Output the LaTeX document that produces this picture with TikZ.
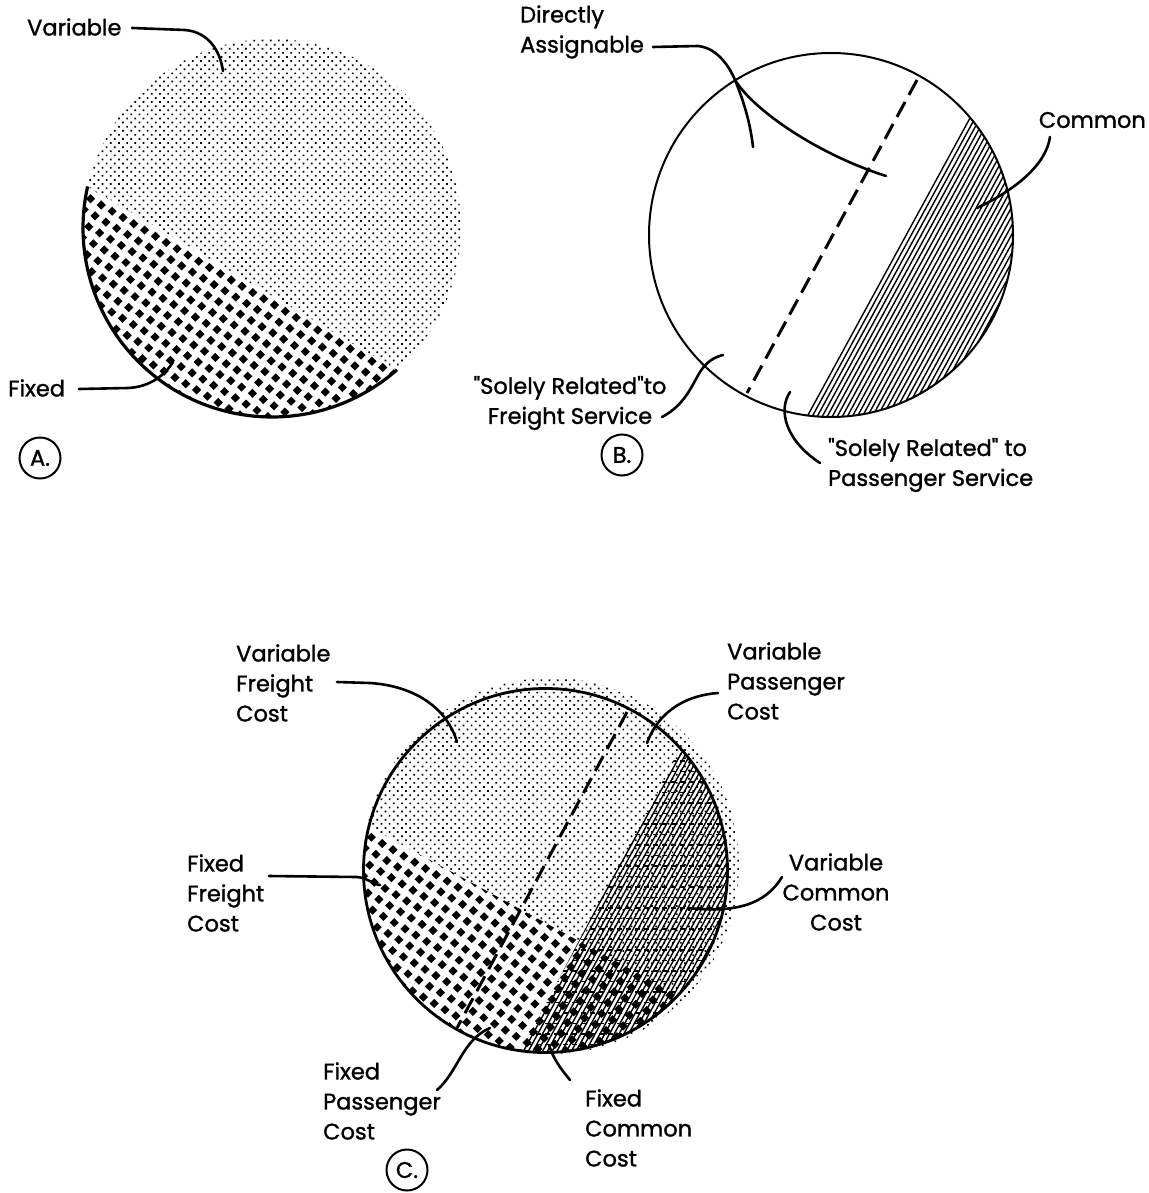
\documentclass[tikz,border=0pt]{standalone}
\usepackage{fontspec}
\setmainfont{Poppins}[FakeBold=1.3]
\newfontfamily\qf{Poppins}[FakeBold=1.3]
\newcommand{\sq}{{\qf\symbol{34}}}
\usetikzlibrary{calc,patterns.meta}

\tikzdeclarepattern{
  name=stip, type=colored,
  bottom left={(-.1pt,-.1pt)}, top right={(5.9pt,5.9pt)},
  tile size={(5.8pt,5.8pt)},
  tile transformation={rotate=45},
  code={\fill[black] (2.9pt,2.9pt) circle[radius=1.2pt];}
}
\tikzdeclarepattern{
  name=diam, type=colored,
  bottom left={(-.1pt,-.1pt)}, top right={(12.6pt,12.6pt)},
  tile size={(12.5pt,12.5pt)},
  tile transformation={rotate=-30},
  code={\fill[black] (10.23pt,8.55pt) -- (3.95pt,10.23pt) -- (2.27pt,3.95pt) -- (8.55pt,2.27pt) -- cycle;}
}

\begin{document}
\begin{tikzpicture}[x=1pt,y=-1pt,
  lbl/.style={font=\fontsize{22.5}{30}\selectfont, inner sep=0pt},
  lead/.style={line width=2.6pt, line cap=round, line join=round},
  tagc/.style={circle, draw, line width=2pt, minimum size=41pt, inner sep=0pt, font=\fontsize{22.5}{26}\selectfont},
  hatchln/.style={line width=1.4pt},
  brickln/.style={line width=1.1pt, dash pattern=on 5pt off 4pt},
  dashln/.style={line width=3pt, dash pattern=on 17pt off 8pt},
  rimA/.style={line width=3.2pt},
  rimB/.style={line width=2pt},
  rimC/.style={line width=2.8pt}]

\path[use as bounding box] (0,0) rectangle (1148,1193);

% ================= Panel A =================
\coordinate (cA) at (272,228);
\coordinate (aL) at ($(cA)+(192.7:189)$);
\coordinate (aR) at ($(cA)+(48.6:189)$);
\fill[pattern=stip] (aL) arc[start angle=192.7, end angle=408.6, radius=189] -- cycle;
\fill[pattern=diam] (aR) arc[start angle=48.6, end angle=192.7, radius=189] -- cycle;
\draw[rimA] (aR) arc[start angle=48.6, end angle=192.7, radius=189];

\node[lbl, anchor=west] (tVarA) at (27,27) {Variable};
\node[lbl, anchor=west] (tFixA) at (8,388) {Fixed};
\node[tagc] (tagA) at (40,458) {A.};

\coordinate (sVarA) at (132,28);
\coordinate (eVarA) at (223,71);
\draw[lead] (sVarA) -- (185,30) .. controls (208,32) and (220,50) .. (eVarA);
\coordinate (sFixA) at (79,389);
\coordinate (eFixA) at (173,362);
\draw[lead] (sFixA) -- (128,388) .. controls (150,387) and (165,375) .. (eFixA);

% ================= Panel B =================
\coordinate (cB) at (831,235);
\coordinate (bT) at ($(cB)+(-40.7:182)$);
\begin{scope}
  \clip (bT) arc[start angle=-40.7, end angle=98.2, radius=182] -- cycle;
  \foreach \k in {-45,...,45}
    \draw[hatchln, shift={(cB)}] ({\k*4.4*0.878+0.479*230},{\k*4.4*0.479-0.878*230}) -- ({\k*4.4*0.878-0.479*230},{\k*4.4*0.479+0.878*230});
\end{scope}
\draw[rimB] (cB) circle[radius=182];
\coordinate (bD1) at (917,80);
\coordinate (bD2) at (747,393);
\draw[dashln] (bD1) -- (bD2);

\node[lbl, anchor=west, align=left] (tDA) at (520,32) {Directly\\Assignable};
\node[lbl, anchor=east] (tCom) at (1146,120) {Common};
\node[lbl, align=center] (tSRF) at (570,403) {\sq Solely Related\sq to\\Freight Service};
\node[lbl, anchor=west, align=left] (tSRP) at (828,465) {\sq Solely Related\sq{} to\\Passenger Service};
\node[tagc] (tagB) at (622,455) {B.};

\coordinate (sDA) at (653,47);
\coordinate (bBr) at (735,80);
\coordinate (eDA1) at (753,147);
\coordinate (eDA2) at (886,176);
\draw[lead] (sDA) -- (698,46) .. controls (718,48) and (730,68) .. (bBr)
            .. controls (742,97) and (750,120) .. (eDA1);
\draw[lead] (bBr) .. controls (755,112) and (820,155) .. (eDA2);
\coordinate (sCom) at (1050,137);
\coordinate (eCom) at (977,208);
\draw[lead] (sCom) .. controls (1046,165) and (1015,190) .. (eCom);
\coordinate (sSRF) at (662,417);
\coordinate (eSRF) at (723,355);
\draw[lead] (sSRF) .. controls (685,405) and (692,385) .. (700,372) .. controls (707,361) and (715,357) .. (eSRF);
\coordinate (sSRP) at (820,463);
\coordinate (eSRP) at (790,392);
\draw[lead] (sSRP) .. controls (785,440) and (778,410) .. (eSRP);

% ================= Panel C =================
\coordinate (cC) at (545.5,870.5);
\coordinate (cH) at (551,866);
\fill[pattern=stip] (cH) circle[radius=188];
\coordinate (cFR) at ($(cC)+(43.2:182)$);
\coordinate (cFL) at ($(cC)+(193.9:182)$);
\fill[white] (cFR) arc[start angle=43.2, end angle=193.9, radius=182] -- cycle;
\fill[pattern=diam] (cFR) arc[start angle=43.2, end angle=193.9, radius=182] -- cycle;
\coordinate (cT) at ($(cC)+(-42.3:182)$);
\begin{scope}
  \clip (cT) arc[start angle=-42.3, end angle=97.7, radius=182] -- cycle;
  \foreach \k in {-45,...,45}
    \draw[hatchln, shift={(cC)}] ({\k*4.2*0.878+0.479*230},{\k*4.2*0.479-0.878*230}) -- ({\k*4.2*0.878-0.479*230},{\k*4.2*0.479+0.878*230});
  \foreach \j in {0,...,32}
    \draw[brickln] (500,{740+\j*10.5}) -- (740,{740+\j*10.5});
\end{scope}
\draw[rimC] (cC) circle[radius=182];
\coordinate (cD1) at (627,712);
\coordinate (cD2) at (457,1028);
\draw[dashln] (cD1) -- (cD2);

\node[lbl, anchor=west, align=left] (tVFC) at (236,683) {Variable\\Freight\\Cost};
\node[lbl, anchor=west, align=left] (tVPC) at (727,681) {Variable\\Passenger\\Cost};
\node[lbl, anchor=west, align=left] (tFFC) at (187,893) {Fixed\\Freight\\Cost};
\node[lbl, align=center] (tVCC) at (836,892) {Variable\\Common\\Cost};
\node[lbl, anchor=west, align=left] (tFPC) at (323,1101) {Fixed\\Passenger\\Cost};
\node[lbl, anchor=west, align=left] (tFCC) at (585,1128) {Fixed\\Common\\Cost};
\node[tagc] (tagC) at (407,1170) {C.};

\coordinate (sVFC) at (337,682);
\coordinate (eVFC) at (457,742);
\draw[lead] (sVFC) -- (370,683) .. controls (415,686) and (447,708) .. (eVFC);
\coordinate (sVPC) at (718,693);
\coordinate (eVPC) at (647,743);
\draw[lead] (sVPC) .. controls (690,695) and (660,708) .. (eVPC);
\coordinate (sFFC) at (269,876);
\coordinate (eFFC) at (380,885);
\draw[lead] (sFFC) -- (357,877) .. controls (368,878) and (372,884) .. (eFFC);
\coordinate (sVCC) at (782,877);
\coordinate (eVCC) at (688,908);
\draw[lead] (sVCC) .. controls (765,905) and (735,913) .. (eVCC);
\coordinate (sFPC) at (437,1090);
\coordinate (eFPC) at (490,1028);
\draw[lead] (sFPC) .. controls (458,1072) and (462,1040) .. (eFPC);
\coordinate (sFCC) at (570,1080);
\coordinate (eFCC) at (549,1045);
\draw[lead] (sFCC) .. controls (560,1068) and (553,1058) .. (eFCC);

\end{tikzpicture}
\end{document}
